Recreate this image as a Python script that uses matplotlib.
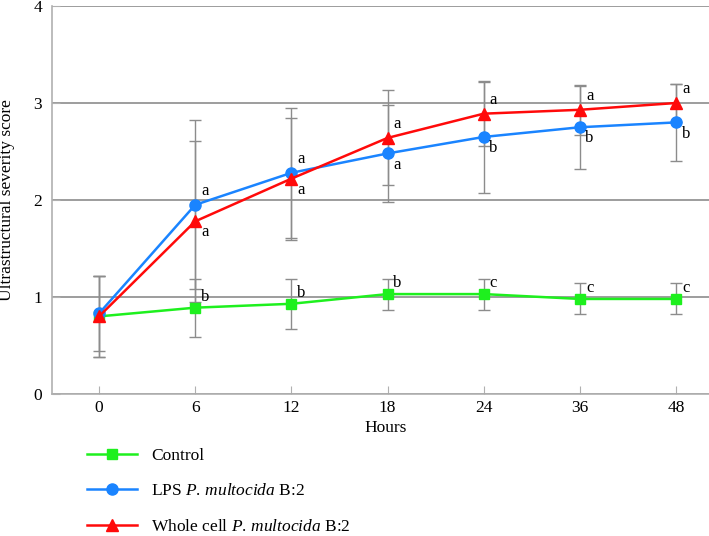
import matplotlib
matplotlib.use("Agg")
from matplotlib import pyplot as plt

plt.rcParams['font.family'] = ['Liberation Serif', 'DejaVu Serif']
plt.rcParams['mathtext.fontset'] = 'custom'
plt.rcParams['mathtext.rm'] = 'Liberation Serif'
plt.rcParams['mathtext.it'] = 'Liberation Serif:italic'

hours = ["0", "6", "12", "18", "24", "36", "48"]

control = [0.80, 0.89, 0.93, 1.03, 1.03, 0.98, 0.98]
control_err = [0.42, 0.30, 0.26, 0.16, 0.16, 0.16, 0.16]
control_letters = ["", "b", "b", "b", "c", "c", "c"]

lps = [0.83, 1.95, 2.28, 2.48, 2.65, 2.75, 2.80]
lps_err = [0.39, 0.87, 0.67, 0.50, 0.58, 0.43, 0.40]
lps_letters = ["", "a", "a", "a", "b", "b", "b"]

whole = [0.80, 1.78, 2.22, 2.64, 2.89, 2.93, 3.00]
whole_err = [0.42, 0.83, 0.63, 0.49, 0.33, 0.26, 0.20]
whole_letters = ["", "a", "a", "a", "a", "a", "a"]

labels = ["Control", r"LPS $\mathit{P.\,multocida}$ B:2",
          r"Whole cell $\mathit{P.\,multocida}$ B:2"]

# letter placement (above / below the marker)
lps_above = [True, True, True, False, False, False, False]
whole_above = [False, False, False, True, True, True, True]

fig = plt.figure(figsize=(7.09, 5.36), dpi=100)
ax = fig.add_axes([52 / 709, 142 / 536, 668 / 709, 388 / 536])

x = list(range(len(hours)))
grey = "#8c8c8c"
series = [
    (control, control_err, "#1ef01e", "s", 7.5, labels[0]),
    (lps, lps_err, "#1a84ff", "o", 8, labels[1]),
    (whole, whole_err, "#ff0a0a", "^", 8, labels[2]),
]
for y, err, col, mk, ms, lab in series:
    ax.errorbar(x, y, yerr=err, fmt="none", ecolor=grey, elinewidth=1,
                capsize=4, capthick=1, zorder=2)
for y, err, col, mk, ms, lab in series:
    ax.plot(x, y, color=col, marker=mk, markersize=ms, linewidth=1.8,
            label=lab, zorder=3)

for i in x:
    if control_letters[i]:
        ax.annotate(control_letters[i], (i, control[i]), xytext=(7, 8),
                    textcoords="offset points", ha="center", va="center", fontsize=12)
    if lps_letters[i]:
        dy = 10 if lps_above[i] else -8
        ax.annotate(lps_letters[i], (i, lps[i]), xytext=(7, dy),
                    textcoords="offset points", ha="center", va="center", fontsize=12)
    if whole_letters[i]:
        dy = 10 if whole_above[i] else -8
        ax.annotate(whole_letters[i], (i, whole[i]), xytext=(7, dy),
                    textcoords="offset points", ha="center", va="center", fontsize=12)

ax.set_xlim(-0.489, 6.457)
ax.set_ylim(0, 4)
ax.set_xticks(x)
ax.set_xticklabels(hours)
ax.set_yticks([0, 1, 2, 3, 4])
ax.tick_params(axis="both", direction="in", length=6, color="#b0b0b0",
               labelsize=12.5)
ax.tick_params(axis="x", pad=4.5)
ax.tick_params(axis="y", pad=7)
ax.yaxis.grid(True, color="#8c8c8c", linewidth=1.2)
ax.set_axisbelow(True)
for s in ["top", "right"]:
    ax.spines[s].set_visible(False)
for s in ["left", "bottom"]:
    ax.spines[s].set_color("#b0b0b0")
    ax.spines[s].set_linewidth(1.2)

ax.set_xlabel("Hours", fontsize=12.5, labelpad=3)
ax.set_ylabel("Ultrastructural severity score", fontsize=12.5)
ax.yaxis.set_label_coords(-0.056, 0.5)

ax.legend(loc="upper left", bbox_to_anchor=(87 / 709, 1 - 448 / 536),
          bbox_transform=fig.transFigure, frameon=False, fontsize=12.5,
          handlelength=2.9, handletextpad=0.8, labelspacing=1.1,
          borderpad=0, borderaxespad=0, numpoints=1)

fig.savefig("out.png", dpi=100)
